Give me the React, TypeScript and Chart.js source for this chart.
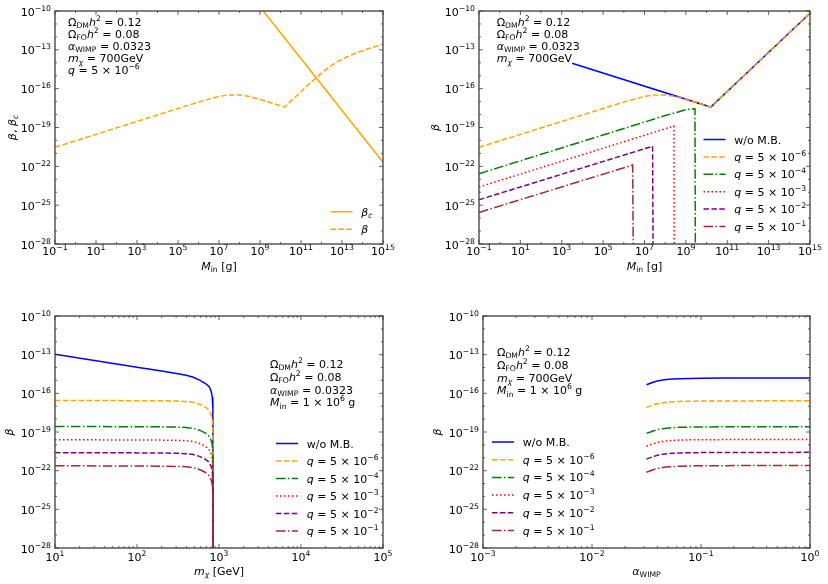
import React, { useEffect, useRef } from 'react';
import { Chart, registerables } from 'chart.js';
Chart.register(...registerables);

type Seg = { t: string; it?: boolean; sub?: boolean; sup?: boolean };

// ---------------- DATA (log10 values) ----------------
// Panel (a): beta_c and beta vs M_in
const aBetaCLogM = [9.16, 15];
const aBetaCLogB = [-10, -21.69];
const aBetaLogM = [-1, 1, 3, 5, 6, 7, 7.5, 8, 8.5, 9, 9.6, 10.2, 10.8, 11.4, 11.9, 12.2, 12.5, 12.8, 13.2, 13.6, 14.2, 15];
const aBetaLogB = [-20.53, -19.53, -18.53, -17.53, -17.04, -16.6, -16.48, -16.48, -16.6, -16.84, -17.12, -17.42, -16.53, -15.64, -14.94, -14.55, -14.2, -13.89, -13.57, -13.3, -12.96, -12.55];

// Panel (b): beta vs M_in for several q
const bBlueLogM = [3.5, 10.2, 15];
const bBlueLogB = [-14.04, -17.42, -10.18];
const bQ6LogM = [-1, 1, 3, 5, 6, 7, 7.5, 8, 8.5, 9, 9.6, 10.2, 15];
const bQ6LogB = [-20.53, -19.53, -18.53, -17.53, -17.04, -16.6, -16.48, -16.48, -16.6, -16.84, -17.12, -17.42, -10.2];
const bQ4LogM = [-1, 8, 9, 9.44, 9.46];
const bQ4LogB = [-22.57, -18.08, -17.63, -17.55, -30];
const bQ3LogM = [-1, 8.42, 8.44];
const bQ3LogB = [-23.6, -18.89, -30];
const bQ2LogM = [-1, 7.39, 7.42];
const bQ2LogB = [-24.58, -20.45, -30];
const bQ1LogM = [-1, 6.43, 6.46];
const bQ1LogB = [-25.56, -21.9, -30];

// Panel (c): beta vs m_chi
const cLogM = [1, 1.5, 2, 2.3, 2.5, 2.6, 2.687, 2.77, 2.83, 2.87, 2.89, 2.905, 2.918, 2.925, 2.928];
const cBlue = [-12.97, -13.47, -13.97, -14.27, -14.48, -14.6, -14.75, -15.0, -15.22, -15.42, -15.6, -15.85, -16.3, -17.2, -30];
const cQ6 = [-16.55, -16.56, -16.57, -16.58, -16.6, -16.63, -16.7, -16.86, -17.05, -17.25, -17.42, -17.65, -18.0, -18.8, -30];
const cQ4 = [-18.57, -18.58, -18.59, -18.6, -18.62, -18.65, -18.72, -18.88, -19.07, -19.27, -19.44, -19.67, -20.02, -20.82, -30];
const cQ3 = [-19.6, -19.61, -19.62, -19.63, -19.65, -19.68, -19.75, -19.91, -20.1, -20.3, -20.47, -20.7, -21.05, -21.85, -30];
const cQ2 = [-20.6, -20.61, -20.62, -20.63, -20.65, -20.68, -20.75, -20.91, -21.1, -21.3, -21.47, -21.7, -22.05, -22.85, -30];
const cQ1 = [-21.62, -21.63, -21.64, -21.65, -21.67, -21.7, -21.77, -21.93, -22.12, -22.32, -22.49, -22.72, -23.07, -23.87, -30];

// Panel (d): beta vs alpha_WIMP
const dLogA = [-1.5, -1.47, -1.44, -1.4, -1.35, -1.3, -1.2, -1.1, -1.0, -0.8, -0.5, 0];
const dBlue = [-15.33, -15.24, -15.14, -15.04, -14.96, -14.91, -14.86, -14.84, -14.83, -14.82, -14.815, -14.81];
const dQ6 = [-17.1, -17.01, -16.91, -16.81, -16.73, -16.68, -16.63, -16.61, -16.6, -16.59, -16.585, -16.58];
const dQ4 = [-19.11, -19.02, -18.92, -18.82, -18.74, -18.69, -18.64, -18.62, -18.61, -18.6, -18.595, -18.59];
const dQ3 = [-20.1, -20.01, -19.91, -19.81, -19.73, -19.68, -19.63, -19.61, -19.6, -19.59, -19.585, -19.58];
const dQ2 = [-21.1, -21.01, -20.91, -20.81, -20.73, -20.68, -20.63, -20.61, -20.6, -20.59, -20.585, -20.58];
const dQ1 = [-22.12, -22.03, -21.93, -21.83, -21.75, -21.7, -21.65, -21.63, -21.62, -21.61, -21.605, -21.6];

// Tick exponents
const yMajorExp = [-28, -25, -22, -19, -16, -13, -10];
const abXMajorExp = [-1, 1, 3, 5, 7, 9, 11, 13, 15];
const cXMajorExp = [1, 2, 3, 4, 5];
const dXMajorExp = [-3, -2, -1, 0];

// Texts
const noteDM: Seg[] = [{ t: 'Ω' }, { t: 'DM', sub: true }, { t: 'h', it: true }, { t: '2', sup: true }, { t: ' = 0.12' }];
const noteFO: Seg[] = [{ t: 'Ω' }, { t: 'FO', sub: true }, { t: 'h', it: true }, { t: '2', sup: true }, { t: ' = 0.08' }];
const noteAlpha: Seg[] = [{ t: 'α', it: true }, { t: 'WIMP', sub: true }, { t: ' = 0.0323' }];
const noteMchi: Seg[] = [{ t: 'm', it: true }, { t: 'χ', it: true, sub: true }, { t: ' = 700GeV' }];
const noteQ: Seg[] = [{ t: 'q', it: true }, { t: ' = 5 × 10' }, { t: '\u22126', sup: true }];
const noteMin: Seg[] = [{ t: 'M', it: true }, { t: 'in', sub: true }, { t: ' = 1 × 10' }, { t: '6', sup: true }, { t: ' g' }];

const qLabel = (e: string): Seg[] => [{ t: 'q', it: true }, { t: ' = 5 × 10' }, { t: '\u2212' + e, sup: true }];
const legWo: Seg[] = [{ t: 'w/o M.B.' }];

const BLUE = '#0000ff';
const ORANGE = '#ffa500';
const GREEN = '#008000';
const RED = '#ff0000';
const PURPLE = '#800080';
const BROWN = '#a52a2a';
const SOLID: number[] = [];
const DASHED = [5.5, 2.4];
const DASHDOT = [9.6, 2.4, 1.5, 2.4];
const DOTTED = [1.5, 2.5];

const FONT = '"DejaVu Sans", "Liberation Sans", sans-serif';
const FS = 11;
const FRAME = '#3c3c3c';

function segFont(s: Seg, size: number) {
  const px = s.sub || s.sup ? size * 0.7 : size;
  return `${s.it ? 'italic ' : ''}${px.toFixed(2)}px ${FONT}`;
}
function measureSegs(ctx: CanvasRenderingContext2D, segs: Seg[], size: number) {
  let w = 0;
  for (const s of segs) {
    ctx.font = segFont(s, size);
    w += ctx.measureText(s.t).width;
  }
  return w;
}
function drawSegs(ctx: CanvasRenderingContext2D, segs: Seg[], x: number, y: number, size: number, align: 'left' | 'center' | 'right') {
  const w = measureSegs(ctx, segs, size);
  let cx = align === 'left' ? x : align === 'center' ? x - w / 2 : x - w;
  ctx.textAlign = 'left';
  ctx.textBaseline = 'alphabetic';
  for (const s of segs) {
    ctx.font = segFont(s, size);
    const dy = s.sub ? size * 0.22 : s.sup ? -size * 0.45 : 0;
    ctx.fillText(s.t, cx, y + dy);
    cx += ctx.measureText(s.t).width;
  }
}
const expStr = (v: number) => (v < 0 ? '\u2212' + Math.abs(v) : String(v));

type DS = { xs: number[]; ys: number[]; color: string; dash: number[] };
type Leg = { label: Seg[]; color: string; dash: number[] };
interface PanelCfg {
  left: number; top: number;
  pad: { left: number; right: number; top: number; bottom: number };
  xMin: number; xMax: number;
  xMajors: number[]; xMinorDecadeOnly: boolean;
  tickOff: number; titleOff: number; yTitleX: number;
  xTitle: Seg[]; yTitle: Seg[];
  notes: Seg[][]; noteX: number; noteY0: number; noteDy: number;
  legend: Leg[]; legX: number; legY0: number; legDy: number;
  datasets: DS[];
}

function makePlugin(cfg: PanelCfg) {
  return {
    id: 'decor',
    afterDraw(chart: any) {
      const ctx: CanvasRenderingContext2D = chart.ctx;
      const ca = chart.chartArea;
      const xs = chart.scales.x;
      const ys = chart.scales.y;
      ctx.save();
      ctx.setLineDash([]);
      ctx.strokeStyle = FRAME;
      ctx.fillStyle = '#000';
      ctx.lineWidth = 0.8;
      const vt = (px: number, len: number) => {
        ctx.beginPath();
        ctx.moveTo(px, ca.bottom); ctx.lineTo(px, ca.bottom - len);
        ctx.moveTo(px, ca.top); ctx.lineTo(px, ca.top + len);
        ctx.stroke();
      };
      const ht = (py: number, len: number) => {
        ctx.beginPath();
        ctx.moveTo(ca.left, py); ctx.lineTo(ca.left + len, py);
        ctx.moveTo(ca.right, py); ctx.lineTo(ca.right - len, py);
        ctx.stroke();
      };
      for (let e = Math.ceil(cfg.xMin); e <= cfg.xMax; e++) {
        if (cfg.xMinorDecadeOnly) {
          if (!cfg.xMajors.includes(e)) vt(xs.getPixelForValue(Math.pow(10, e)), 2);
        } else if (e < cfg.xMax) {
          for (let k = 2; k <= 9; k++) vt(xs.getPixelForValue(k * Math.pow(10, e)), 2);
        }
      }
      for (const e of cfg.xMajors) vt(xs.getPixelForValue(Math.pow(10, e)), 4);
      for (let e = -28; e <= -10; e++) {
        const py = ys.getPixelForValue(Math.pow(10, e));
        ht(py, yMajorExp.includes(e) ? 4 : 2);
      }
      ctx.lineWidth = 1.3;
      ctx.strokeRect(ca.left, ca.top, ca.right - ca.left, ca.bottom - ca.top);
      for (const e of cfg.xMajors) {
        const px = xs.getPixelForValue(Math.pow(10, e));
        drawSegs(ctx, [{ t: '10' }, { t: expStr(e), sup: true }], px, ca.bottom + cfg.tickOff, FS, 'center');
      }
      for (const e of yMajorExp) {
        const py = ys.getPixelForValue(Math.pow(10, e));
        drawSegs(ctx, [{ t: '10' }, { t: expStr(e), sup: true }], ca.left - 4, py + 4.5, FS, 'right');
      }
      drawSegs(ctx, cfg.xTitle, (ca.left + ca.right) / 2, ca.bottom + cfg.titleOff, FS, 'center');
      ctx.save();
      ctx.translate(cfg.yTitleX, (ca.top + ca.bottom) / 2);
      ctx.rotate(-Math.PI / 2);
      drawSegs(ctx, cfg.yTitle, 0, 0, FS, 'center');
      ctx.restore();
      cfg.notes.forEach((n, i) => drawSegs(ctx, n, cfg.noteX, cfg.noteY0 + i * cfg.noteDy, FS, 'left'));
      cfg.legend.forEach((l, i) => {
        const yc = cfg.legY0 + i * cfg.legDy;
        ctx.save();
        ctx.strokeStyle = l.color;
        ctx.lineWidth = 1.5;
        ctx.setLineDash(l.dash);
        ctx.beginPath();
        ctx.moveTo(cfg.legX, yc);
        ctx.lineTo(cfg.legX + 22, yc);
        ctx.stroke();
        ctx.restore();
        drawSegs(ctx, l.label, cfg.legX + 30.8, yc + 4, FS, 'left');
      });
      ctx.restore();
    },
  };
}

function Panel({ cfg }: { cfg: PanelCfg }) {
  const ref = useRef<HTMLCanvasElement>(null);
  useEffect(() => {
    if (!ref.current) return;
    const n = cfg.datasets.length;
    const chart = new Chart(ref.current, {
      type: 'line',
      data: {
        datasets: cfg.datasets.map((d, k) => ({
          data: d.xs.map((x, i) => ({ x: Math.pow(10, x), y: Math.pow(10, d.ys[i]) })),
          borderColor: d.color,
          borderWidth: 1.5,
          borderDash: d.dash,
          pointRadius: 0,
          fill: false,
          tension: 0,
          order: n - k,
        })),
      },
      options: {
        animation: false,
        responsive: false,
        maintainAspectRatio: false,
        devicePixelRatio: 1,
        events: [],
        layout: { padding: cfg.pad },
        plugins: { legend: { display: false }, tooltip: { enabled: false } },
        scales: {
          x: { type: 'logarithmic', min: Math.pow(10, cfg.xMin), max: Math.pow(10, cfg.xMax), display: false },
          y: { type: 'logarithmic', min: 1e-28, max: 1e-10, display: false },
        },
      },
      plugins: [makePlugin(cfg) as any],
    } as any);
    return () => chart.destroy();
  }, []);
  return (
    <canvas
      ref={ref}
      width={414}
      height={292}
      style={{ position: 'absolute', left: cfg.left, top: cfg.top, width: 414, height: 292 }}
    />
  );
}

const betaTitle: Seg[] = [{ t: 'β', it: true }];
const qLegend = (): Leg[] => [
  { label: legWo, color: BLUE, dash: SOLID },
  { label: qLabel('6'), color: ORANGE, dash: DASHED },
  { label: qLabel('4'), color: GREEN, dash: DASHDOT },
  { label: qLabel('3'), color: RED, dash: DOTTED },
  { label: qLabel('2'), color: PURPLE, dash: DASHED },
  { label: qLabel('1'), color: BROWN, dash: DASHDOT },
];

const panels: PanelCfg[] = [
  {
    left: 0, top: 0,
    pad: { left: 55, right: 31, top: 11, bottom: 48 },
    xMin: -1, xMax: 15, xMajors: abXMajorExp, xMinorDecadeOnly: true,
    tickOff: 11, titleOff: 25.5, yTitleX: 16,
    xTitle: [{ t: 'M', it: true }, { t: 'in', sub: true }, { t: ' [g]' }],
    yTitle: [{ t: 'β', it: true }, { t: ', ' }, { t: 'β', it: true }, { t: 'c', it: true, sub: true }],
    notes: [noteDM, noteFO, noteAlpha, noteMchi, noteQ], noteX: 68, noteY0: 25.5, noteDy: 12.2,
    legend: [
      { label: [{ t: 'β', it: true }, { t: 'c', it: true, sub: true }], color: ORANGE, dash: SOLID },
      { label: [{ t: 'β', it: true }], color: ORANGE, dash: DASHED },
    ],
    legX: 330.5, legY0: 211.7, legDy: 17.6,
    datasets: [
      { xs: aBetaCLogM, ys: aBetaCLogB, color: ORANGE, dash: SOLID },
      { xs: aBetaLogM, ys: aBetaLogB, color: ORANGE, dash: DASHED },
    ],
  },
  {
    left: 414, top: 0,
    pad: { left: 65, right: 18, top: 11, bottom: 48 },
    xMin: -1, xMax: 15, xMajors: abXMajorExp, xMinorDecadeOnly: true,
    tickOff: 11, titleOff: 25.5, yTitleX: 24.5,
    xTitle: [{ t: 'M', it: true }, { t: 'in', sub: true }, { t: ' [g]' }],
    yTitle: betaTitle,
    notes: [noteDM, noteFO, noteAlpha, noteMchi], noteX: 82.7, noteY0: 25.5, noteDy: 12.2,
    legend: qLegend(),
    legX: 289.5, legY0: 139.5, legDy: 17.4,
    datasets: [
      { xs: bBlueLogM, ys: bBlueLogB, color: BLUE, dash: SOLID },
      { xs: bQ6LogM, ys: bQ6LogB, color: ORANGE, dash: DASHED },
      { xs: bQ4LogM, ys: bQ4LogB, color: GREEN, dash: DASHDOT },
      { xs: bQ3LogM, ys: bQ3LogB, color: RED, dash: DOTTED },
      { xs: bQ2LogM, ys: bQ2LogB, color: PURPLE, dash: DASHED },
      { xs: bQ1LogM, ys: bQ1LogB, color: BROWN, dash: DASHDOT },
    ],
  },
  {
    left: 0, top: 292,
    pad: { left: 55, right: 31, top: 24, bottom: 36 },
    xMin: 1, xMax: 5, xMajors: cXMajorExp, xMinorDecadeOnly: false,
    tickOff: 13, titleOff: 26.5, yTitleX: 13,
    xTitle: [{ t: 'm', it: true }, { t: 'χ', it: true, sub: true }, { t: ' [GeV]' }],
    yTitle: betaTitle,
    notes: [noteDM, noteFO, noteAlpha, noteMin], noteX: 270, noteY0: 75.7, noteDy: 12.9,
    legend: qLegend(),
    legX: 276, legY0: 151.5, legDy: 17.5,
    datasets: [
      { xs: cLogM, ys: cBlue, color: BLUE, dash: SOLID },
      { xs: cLogM, ys: cQ6, color: ORANGE, dash: DASHED },
      { xs: cLogM, ys: cQ4, color: GREEN, dash: DASHDOT },
      { xs: cLogM, ys: cQ3, color: RED, dash: DOTTED },
      { xs: cLogM, ys: cQ2, color: PURPLE, dash: DASHED },
      { xs: cLogM, ys: cQ1, color: BROWN, dash: DASHDOT },
    ],
  },
  {
    left: 414, top: 292,
    pad: { left: 69, right: 18, top: 24, bottom: 36 },
    xMin: -3, xMax: 0, xMajors: dXMajorExp, xMinorDecadeOnly: false,
    tickOff: 13, titleOff: 26.5, yTitleX: 27,
    xTitle: [{ t: 'α', it: true }, { t: 'WIMP', sub: true }],
    yTitle: betaTitle,
    notes: [noteDM, noteFO, noteMchi, noteMin], noteX: 83, noteY0: 64, noteDy: 12.8,
    legend: qLegend(),
    legX: 78, legY0: 150, legDy: 17.7,
    datasets: [
      { xs: dLogA, ys: dBlue, color: BLUE, dash: SOLID },
      { xs: dLogA, ys: dQ6, color: ORANGE, dash: DASHED },
      { xs: dLogA, ys: dQ4, color: GREEN, dash: DASHDOT },
      { xs: dLogA, ys: dQ3, color: RED, dash: DOTTED },
      { xs: dLogA, ys: dQ2, color: PURPLE, dash: DASHED },
      { xs: dLogA, ys: dQ1, color: BROWN, dash: DASHDOT },
    ],
  },
];

export default function App() {
  return (
    <div style={{ position: 'absolute', left: 0, top: 0, width: 828, height: 584, background: '#fff' }}>
      {panels.map((p, i) => (
        <Panel key={i} cfg={p} />
      ))}
    </div>
  );
}
